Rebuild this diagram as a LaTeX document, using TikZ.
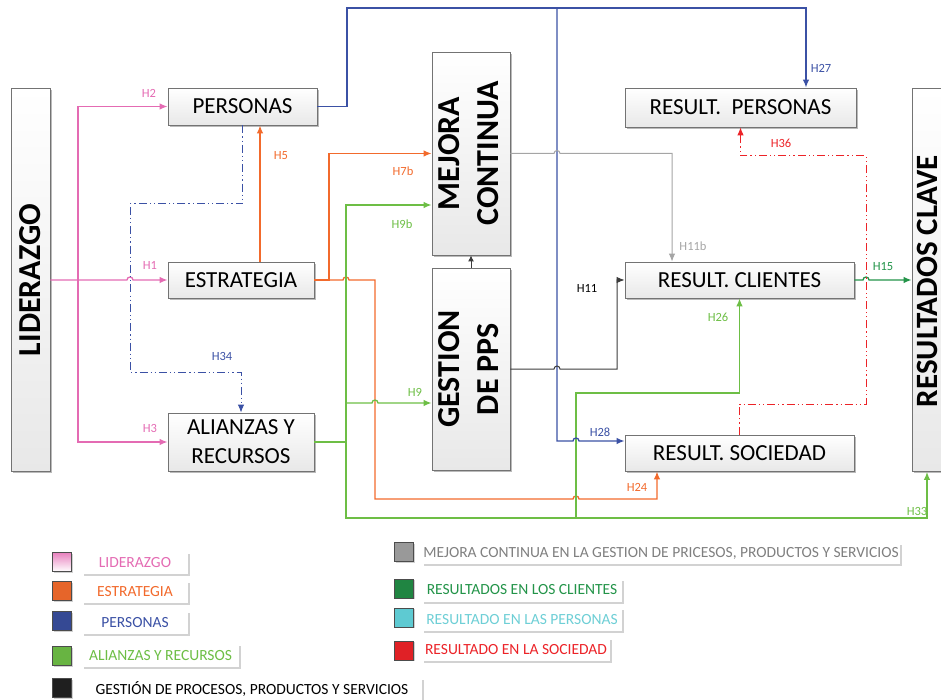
\documentclass[tikz,border=0pt]{standalone}
\usepackage{fontspec}
\setmainfont{Carlito}
\usetikzlibrary{arrows.meta,shadows,calc}

\definecolor{rosa}{HTML}{E46BB3}
\definecolor{naranja}{HTML}{F26A2C}
\definecolor{azul}{HTML}{3B51A5}
\definecolor{verde}{HTML}{6DBE45}
\definecolor{verdeosc}{HTML}{239449}
\definecolor{gris}{HTML}{A5A5A5}
\definecolor{negro}{HTML}{3C3C3C}
\definecolor{rojo}{HTML}{EC2328}
\definecolor{cian}{HTML}{5ECAD2}

\begin{document}
\begin{tikzpicture}[x=1pt,y=-1pt,
    >={Latex[length=8pt,width=6.5pt]},
    caja/.style={draw=black!55, line width=0.8pt, top color=white, bottom color=black!9, inner sep=0pt,
        drop shadow={shadow xshift=1.8pt,shadow yshift=-1.8pt,fill=black!45,opacity=0.6},
        font=\fontsize{23}{27}\selectfont},
    cajav/.style={caja, font=\fontsize{32}{39}\selectfont\bfseries},
    con/.style={line width=1.3pt},
    fino/.style={line width=1pt},
    punteado/.style={line width=1pt, dash pattern=on 8pt off 3pt on 1.2pt off 3pt on 1.2pt off 3pt},
    hh/.style={font=\fontsize{12.5}{14}\selectfont, inner sep=0pt},
    cuadro/.style={draw=black!70, line width=0.8pt, minimum width=19pt, minimum height=19pt, inner sep=0pt,
        drop shadow={shadow xshift=1.2pt,shadow yshift=-1.2pt,fill=black!30,opacity=0.6}},
    etiq/.style={fill=white, inner sep=0pt, font=\fontsize{15.5}{18}\selectfont,
        drop shadow={shadow xshift=2pt,shadow yshift=-2pt,fill=black!25,opacity=0.7}}
]
    %Definitions%
    %===========================================================
    \def \hop {arc[start angle=180,end angle=0,radius=3pt]} %Line jump over a crossing
    \useasboundingbox (0,0) rectangle (941,700);
    %=============================================================================================================
    %Criteria boxes%
    %=============================================================================================================
    \node[cajav, minimum width=39pt, minimum height=383pt] (liderazgo) at (30.5,280) {\rotatebox{90}{LIDERAZGO}};
    \node[caja, minimum width=149pt, minimum height=37pt] (personas) at (242.5,106.5) {PERSONAS};
    \node[caja, minimum width=146pt, minimum height=36pt] (estrategia) at (241,280) {ESTRATEGIA};
    \node[caja, minimum width=146pt, minimum height=58pt, align=center] (alianzas) at (241,442) {ALIANZAS Y\\[2pt]RECURSOS};
    \node[cajav, minimum width=76pt, minimum height=203pt] (mejora) at (471,153.5) {\rotatebox{90}{\begin{tabular}{@{}c@{}}MEJORA\\CONTINUA\end{tabular}}};
    \node[cajav, minimum width=76pt, minimum height=202pt] (gestion) at (471,369) {\rotatebox{90}{\begin{tabular}{@{}c@{}}GESTION\\DE PPS\end{tabular}}};
    \node[caja, minimum width=231pt, minimum height=39pt] (res_personas) at (740.5,107.5) {RESULT.\ \ PERSONAS};
    \node[caja, minimum width=229pt, minimum height=36pt] (res_clientes) at (739.5,280) {RESULT. CLIENTES};
    \node[caja, minimum width=229pt, minimum height=36pt] (res_sociedad) at (739.5,453) {RESULT. SOCIEDAD};
    \node[caja, minimum width=32pt, minimum height=383pt] (res_clave) at (928,280) {}; %Runs past the right edge
    \node[font=\fontsize{31}{37}\selectfont\bfseries, inner sep=0pt] (res_clave_txt) at (927,281) {\rotatebox{90}{RESULTADOS CLAVE}};
    %Connector end points%
    \coordinate (pk) at (78,280); %Split of the leadership lines
    \coordinate (h5pie) at ([xshift=19pt]estrategia.north);
    \coordinate (h24pie) at ([xshift=-82.5pt]res_sociedad.south);
    \coordinate (h27pie) at ([xshift=65.5pt]res_personas.north);
    \coordinate (h11bpie) at ([xshift=-67.5pt]res_clientes.north);
    \coordinate (h33pie) at ([xshift=-1pt]res_clave.south);
    %=============================================================================================================
    %Relations%
    %=============================================================================================================
    \draw[con,rosa,->] (liderazgo.east) -- (127,280) \hop -- (estrategia.west); %H1
    \draw[con,rosa,->] (pk) |- (personas.west); %H2
    \draw[con,rosa,->] (pk) |- (alianzas.west); %H3
    \draw[punteado,azul,->] (personas.south) -- (242.5,204) -- (130,204) -- (130,372) -| (alianzas.north); %H34
    \draw[con,naranja,->] (h5pie) -- (h5pie |- personas.south); %H5
    \draw[con,naranja,->] (estrategia.east) -- (329,280) |- (mejora.west); %H7b
    \draw[con,naranja,->] (estrategia.east) -- (343,280) \hop -- (375,280) -- (375,499) -- (573,499) \hop -| (h24pie); %H24
    \draw[con,verde,->] (alianzas.east) -- (346,442) -- (346,205) -- (mejora.west |- 346,205); %H9b
    \draw[con,verde,->] (346,403) -- (372,403) \hop -- (gestion.west |- 346,403); %H9
    \draw[con,verde,->] (346,442) -- (346,518) -| (h33pie); %H33
    \draw[con,verde,->] (576,518) -- (576,393) -| (res_clientes.south); %H26
    \draw[con,azul,->] (personas.east) -- (347,106.5) -- (347,8) -| (h27pie); %H27
    \draw[con,azul,->] (557,8) -- (557,441) -- (573,441) \hop -- (res_sociedad.west |- 557,441); %H28
    \draw[fino,gris,->] (mejora.east) -- (554,153.5) \hop -- (672,153.5) -- (h11bpie); %H11b
    \draw[fino,negro,->] (gestion.east) -- (554,369) \hop -- (617,369) |- (res_clientes.west); %H11
    \draw[fino,negro,-{Latex[length=6pt,width=6pt]}] (gestion.north) -- (mejora.south); %Management feeds improvement
    \draw[con,verdeosc,->] (res_clientes.east) -- (863,280) \hop -- (res_clave.west |- res_clientes.east); %H15
    \draw[punteado,rojo,->] (res_sociedad.north) -- (739.5,404) -- (866,404) -- (866,156) -| (res_personas.south); %H36
    %Relation labels%
    \node[hh,text=rosa] (h1) at (150,265) {H1};
    \node[hh,text=rosa] (h2) at (149,93) {H2};
    \node[hh,text=rosa] (h3) at (150,428) {H3};
    \node[hh,text=naranja] (h5) at (281,156) {H5};
    \node[hh,text=naranja] (h7b) at (403,171) {H7b};
    \node[hh,text=verde] (h9b) at (402,224) {H9b};
    \node[hh,text=verde] (h9) at (415,392) {H9};
    \node[hh,text=azul] (h34) at (222,356) {H34};
    \node[hh,text=azul] (h27) at (821,68) {H27};
    \node[hh,text=azul] (h28) at (600,432) {H28};
    \node[hh,text=rojo] (h36) at (781,143) {H36};
    \node[hh,text=gris] (h11b) at (693,246) {H11b};
    \node[hh,text=black] (h11) at (587,288) {H11};
    \node[hh,text=verdeosc] (h15) at (883,267) {H15};
    \node[hh,text=verde] (h26) at (718,317) {H26};
    \node[hh,text=naranja] (h24) at (637,487) {H24};
    \node[hh,text=verde] (h33) at (917,511) {H33};
    %=============================================================================================================
    %Legend%
    %=============================================================================================================
    \node[cuadro, top color=rosa!85, bottom color=white] (c_lid) at (62,562) {};
    \node[cuadro, fill=naranja!95!black] (c_est) at (62,591) {};
    \node[cuadro, fill=azul!90!black] (c_per) at (62,621) {};
    \node[cuadro, fill=verde!95!black] (c_ali) at (62,656) {};
    \node[cuadro, fill=black!88] (c_ges) at (62,688) {};
    \node[cuadro, fill=black!40] (c_mej) at (404,552) {};
    \node[cuadro, fill=verdeosc!90!black] (c_rcl) at (404,588.5) {};
    \node[cuadro, fill=cian] (c_rpe) at (404,617.5) {};
    \node[cuadro, fill=rojo!95!black] (c_rso) at (404,650.5) {};
    \node[etiq, minimum width=106pt, minimum height=22pt, text=rosa] (l_lid) at (135,563) {LIDERAZGO};
    \node[etiq, minimum width=106pt, minimum height=22pt, text=naranja] (l_est) at (135,592) {ESTRATEGIA};
    \node[etiq, minimum width=106pt, minimum height=23pt, text=azul] (l_per) at (135,622.5) {PERSONAS};
    \node[etiq, minimum width=157pt, minimum height=23pt, text=verde] (l_ali) at (160.5,655.5) {ALIANZAS Y RECURSOS};
    \node[etiq, minimum width=340pt, minimum height=22pt, text=black] (l_ges) at (252,689) {GESTIÓN DE PROCESOS, PRODUCTOS Y SERVICIOS};
    \node[etiq, minimum width=478pt, minimum height=21pt, text=black!50] (l_mej) at (661,553) {MEJORA CONTINUA EN LA GESTION DE PRICESOS, PRODUCTOS Y SERVICIOS};
    \node[etiq, minimum width=200pt, minimum height=23pt, text=verdeosc] (l_rcl) at (522,590) {RESULTADOS EN LOS CLIENTES};
    \node[etiq, minimum width=200pt, minimum height=23pt, text=cian!90!white] (l_rpe) at (522,619.5) {RESULTADO EN LAS PERSONAS};
    \node[etiq, minimum width=188pt, minimum height=23pt, text=rojo] (l_rso) at (516,649.5) {RESULTADO EN LA SOCIEDAD};
\end{tikzpicture}
\end{document}
